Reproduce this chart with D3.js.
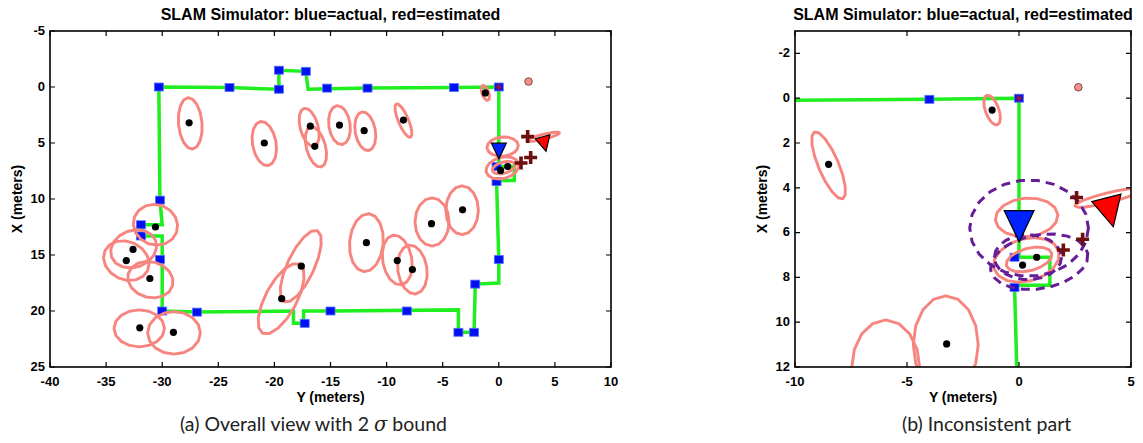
<!DOCTYPE html>
<html>
<head>
<meta charset="utf-8">
<script src="https://cdn.jsdelivr.net/npm/d3@7"></script>
<style>
  body { margin: 0; background: #fff; }
  svg { display: block; }
</style>
</head>
<body>
<svg id="chart" width="1143" height="443"></svg>
<script>
// all values in meters: [Y, X]  (Y horizontal, X pointing down)

// true robot path (green)
const pathPts = [
  [-30.3, 0.0], [-24.0, 0.05], [-19.6, 0.2], [-19.6, -1.5], [-17.2, -1.4], [-17.0, 0.2],
  [-11.7, 0.1], [-4.0, 0.05], [0.0, 0.0], [0.0, 7.1], [1.38, 7.1], [1.38, 8.35],
  [-0.2, 8.35], [-0.1, 12.0], [0.0, 15.4], [0.0, 17.5], [-2.1, 17.6], [-2.2, 21.9],
  [-3.6, 21.9], [-3.6, 19.9], [-15.0, 20.0], [-17.4, 20.0], [-17.4, 21.1], [-18.3, 21.1],
  [-18.3, 20.0], [-27.0, 20.1], [-30.0, 20.0], [-30.0, 13.3], [-31.8, 13.3], [-31.8, 12.3],
  [-30.0, 12.3], [-30.2, 10.1], [-30.3, 0.0]
];

// waypoints (blue squares)
const waypoints = [
  [-30.3, 0], [-24.0, 0.05], [-19.6, -1.5], [-19.6, 0.2], [-17.2, -1.4], [-15.3, 0.1],
  [-11.7, 0.1], [-4.0, 0.05], [0, 0], [-0.2, 7.1], [-0.2, 8.45], [-30.2, 10.1],
  [-31.9, 12.3], [-31.9, 13.3], [-30.2, 15.4], [-30.0, 20.0], [-26.9, 20.1], [-17.3, 21.1],
  [-15.0, 20.0], [-8.2, 20.0], [-3.6, 21.9], [-2.2, 21.9], [-2.1, 17.6], [0.0, 15.4]
];

// landmarks (black dots)
const landmarks = [
  [-27.6, 3.2], [-20.9, 5.0], [-16.8, 3.5], [-16.4, 5.3], [-14.2, 3.4], [-12.0, 3.9],
  [-8.5, 2.95], [-1.2, 0.53], [0.16, 7.45], [0.79, 7.1], [-3.23, 10.97], [-6.0, 12.2],
  [-11.8, 13.9], [-9.05, 15.5], [-7.7, 16.3], [-17.6, 16.0], [-19.35, 18.9], [-30.6, 12.5],
  [-32.6, 14.5], [-33.2, 15.5], [-31.1, 17.1], [-32.0, 21.5], [-29.0, 21.9]
];

// 2 sigma covariance ellipses: [Y, X, semiY, semiX, angle deg]
const covEllipses = [
  [-27.5, 3.25, 1.05, 2.3, -5], [-20.9, 5.05, 1.05, 2.0, -10], [-16.9, 3.6, 0.8, 1.75, -15],
  [-16.3, 5.35, 0.85, 1.85, -15], [-14.2, 3.4, 0.95, 1.75, -8], [-11.9, 3.95, 0.9, 1.75, -10],
  [-8.5, 3.0, 0.45, 1.62, -23], [-1.2, 0.53, 0.3, 0.7, -20], [0.34, 5.32, 1.4, 0.86, -5],
  [0.33, 7.22, 1.5, 0.95, -15], [0.45, 7.2, 1.05, 0.5, -15], [-3.27, 11.0, 1.45, 2.18, 0],
  [-5.95, 12.05, 1.52, 2.15, 0], [-11.8, 13.9, 1.5, 2.6, 5], [-9.05, 15.45, 1.3, 2.25, -10],
  [-7.7, 16.3, 1.3, 2.2, -8], [-17.65, 16.0, 1.2, 3.5, 25], [-19.4, 18.9, 1.4, 3.5, 28],
  [-30.6, 12.3, 2.0, 1.8, 20], [-32.55, 14.45, 2.1, 1.65, -20], [-33.2, 15.5, 2.1, 1.7, 25],
  [-31.05, 17.2, 2.05, 1.6, 15], [-32.05, 21.55, 2.25, 1.65, 0], [-28.95, 21.95, 2.35, 1.9, 0],
  [3.95, 4.45, 1.5, 0.22, -14]
];

// inconsistent gate ellipses (purple dashed, panel b)
const gateEllipses = [
  [0.45, 5.8, 2.65, 2.15, 0], [0.9, 7.3, 2.2, 1.2, -10], [0.4, 7.1, 1.5, 1.0, 0]
];

// observation markers (dark red plus)
const plusMarks = [[2.57, 4.43], [2.84, 6.3], [1.98, 6.78]];

// robot poses
const trueRobot = [[-0.66, 5.02], [0.67, 5.02], [0.01, 6.41]];
const estRobot = [[3.25, 4.62], [4.55, 4.28], [4.21, 5.74]];

const pinkDot = [2.65, -0.49];
const startMark = [0, 0];

const ticksA_Y = [-40, -35, -30, -25, -20, -15, -10, -5, 0, 5, 10];
const ticksA_X = [-5, 0, 5, 10, 15, 20, 25];
const ticksB_Y = [-10, -5, 0, 5];
const ticksB_X = [-2, 0, 2, 4, 6, 8, 10, 12];

const titleText = "SLAM Simulator: blue=actual, red=estimated";

const panels = [
  { id: "a", left: 50, right: 611, top: 31, bottom: 367, yDom: [-40, 10], xDom: [-5, 25],
    yTicks: ticksA_Y, xTicks: ticksA_X, gates: false,
    caption: ["(a) Overall view with 2 ", "\u03C3", " bound"], capX: 180 },
  { id: "b", left: 795, right: 1131, top: 31, bottom: 367, yDom: [-10, 5], xDom: [-3, 12],
    yTicks: ticksB_Y, xTicks: ticksB_X, gates: true,
    caption: ["(b) Inconsistent part"], capX: 902 }
];

const svg = d3.select("#chart");
const boldFont = "'Liberation Sans', Arial, sans-serif";

function ellipsePts(e, n) {
  const [cy, cx, a, b, ang] = e;
  const t = ang * Math.PI / 180;
  const pts = [];
  for (let k = 0; k < n; k++) {
    const f = 2 * Math.PI * k / n;
    const u = a * Math.cos(f), v = b * Math.sin(f);
    pts.push([cy + u * Math.cos(t) - v * Math.sin(t), cx + u * Math.sin(t) + v * Math.cos(t)]);
  }
  return pts;
}

panels.forEach(function (p) {
  const sx = d3.scaleLinear().domain(p.yDom).range([p.left, p.right]);
  const sy = d3.scaleLinear().domain(p.xDom).range([p.top, p.bottom]);
  const g = svg.append("g");

  svg.append("clipPath").attr("id", "clip-" + p.id)
    .append("rect").attr("x", p.left).attr("y", p.top)
    .attr("width", p.right - p.left).attr("height", p.bottom - p.top);

  const plot = g.append("g").attr("clip-path", "url(#clip-" + p.id + ")");
  const line = d3.line().x(d => sx(d[0])).y(d => sy(d[1]));
  const poly = d3.line().x(d => sx(d[0])).y(d => sy(d[1])).curve(d3.curveLinearClosed);

  // path
  plot.append("path").datum(pathPts).attr("d", line)
    .attr("fill", "none").attr("stroke", "#1fee1f").attr("stroke-width", 3.5)
    .attr("stroke-linejoin", "miter");

  // waypoints
  plot.selectAll(".wp").data(waypoints).enter().append("rect")
    .attr("x", d => sx(d[0]) - 4.5).attr("y", d => sy(d[1]) - 4)
    .attr("width", 9).attr("height", 8)
    .attr("fill", "#0010f0").attr("stroke", "#5570ff").attr("stroke-width", 0.8);

  // covariance ellipses
  plot.selectAll(".cov").data(covEllipses).enter().append("path")
    .attr("d", d => poly(ellipsePts(d, 16)))
    .attr("fill", "none").attr("stroke", "#f7857f").attr("stroke-width", 2.9)
    .attr("stroke-linejoin", "round");

  // landmarks
  plot.selectAll(".lm").data(landmarks).enter().append("circle")
    .attr("cx", d => sx(d[0])).attr("cy", d => sy(d[1])).attr("r", 3.6)
    .attr("fill", "#000");

  // gate ellipses
  if (p.gates) {
    plot.selectAll(".gate").data(gateEllipses).enter().append("path")
      .attr("d", d => poly(ellipsePts(d, 22)))
      .attr("fill", "none").attr("stroke", "#651e97").attr("stroke-width", 3)
      .attr("stroke-dasharray", "9,6");
  }

  // start asterisk
  const s0x = sx(startMark[0]), s0y = sy(startMark[1]);
  [[-3.5, 0, 3.5, 0], [0, -3.5, 0, 3.5], [-2.5, -2.5, 2.5, 2.5], [-2.5, 2.5, 2.5, -2.5]].forEach(function (l) {
    plot.append("line").attr("x1", s0x + l[0]).attr("y1", s0y + l[1])
      .attr("x2", s0x + l[2]).attr("y2", s0y + l[3])
      .attr("stroke", "#b01818").attr("stroke-width", 1);
  });

  // observation plus markers
  plusMarks.forEach(function (d) {
    const cx = sx(d[0]), cy = sy(d[1]);
    plot.append("path").attr("d", `M${cx - 6.5},${cy}H${cx + 6.5}M${cx},${cy - 6.5}V${cy + 6.5}`)
      .attr("stroke", "#6e0f0f").attr("stroke-width", 3.6).attr("fill", "none");
  });

  // robots
  plot.append("path").datum(trueRobot).attr("d", poly)
    .attr("fill", "#0022ff").attr("stroke", "#000").attr("stroke-width", 1.2);
  plot.append("path").datum(estRobot).attr("d", poly)
    .attr("fill", "#ff0000").attr("stroke", "#000").attr("stroke-width", 1.2);

  // pink marker
  plot.append("circle").attr("cx", sx(pinkDot[0])).attr("cy", sy(pinkDot[1])).attr("r", 3.8)
    .attr("fill", "#f58f89").attr("stroke", "#6a2a2a").attr("stroke-width", 0.8);

  // axes box with inward ticks
  g.append("rect").attr("x", p.left).attr("y", p.top)
    .attr("width", p.right - p.left).attr("height", p.bottom - p.top)
    .attr("fill", "none").attr("stroke", "#000").attr("stroke-width", 1.6);

  const tk = 5;
  p.yTicks.forEach(function (t) {
    const x = sx(t);
    g.append("path").attr("d", `M${x},${p.bottom}v${-tk}M${x},${p.top}v${tk}`)
      .attr("stroke", "#000").attr("stroke-width", 1.2);
    g.append("text").attr("x", x).attr("y", p.bottom + 18.5).attr("text-anchor", "middle")
      .attr("font-family", boldFont).attr("font-weight", "bold").attr("font-size", 13)
      .text(t);
  });
  p.xTicks.forEach(function (t) {
    const y = sy(t);
    g.append("path").attr("d", `M${p.left},${y}h${tk}M${p.right},${y}h${-tk}`)
      .attr("stroke", "#000").attr("stroke-width", 1.2);
    g.append("text").attr("x", p.left - 5).attr("y", y + 3.8).attr("text-anchor", "end")
      .attr("font-family", boldFont).attr("font-weight", "bold").attr("font-size", 13)
      .text(t);
  });

  const midX = (p.left + p.right) / 2, midY = (p.top + p.bottom) / 2;

  g.append("text").attr("x", midX).attr("y", 20).attr("text-anchor", "middle")
    .attr("font-family", boldFont).attr("font-weight", "bold").attr("font-size", 16)
    .text(titleText);

  g.append("text").attr("x", midX).attr("y", 401.5).attr("text-anchor", "middle")
    .attr("font-family", boldFont).attr("font-weight", "bold").attr("font-size", 14)
    .text("Y (meters)");

  g.append("text").attr("transform", `translate(${p.left - 28},${midY}) rotate(-90)`)
    .attr("text-anchor", "middle")
    .attr("font-family", boldFont).attr("font-weight", "bold").attr("font-size", 14)
    .text("X (meters)");

  const cap = g.append("text").attr("x", p.capX).attr("y", 431).attr("text-anchor", "start")
    .attr("font-family", "Lato, 'Open Sans', sans-serif").attr("font-size", 19.5)
    .attr("fill", "#222");
  p.caption.forEach(function (s) {
    const ts = cap.append("tspan").text(s);
    if (s === "\u03C3") ts.attr("font-style", "italic").attr("font-family", "'DejaVu Serif', serif");
  });
});
</script>
</body>
</html>
